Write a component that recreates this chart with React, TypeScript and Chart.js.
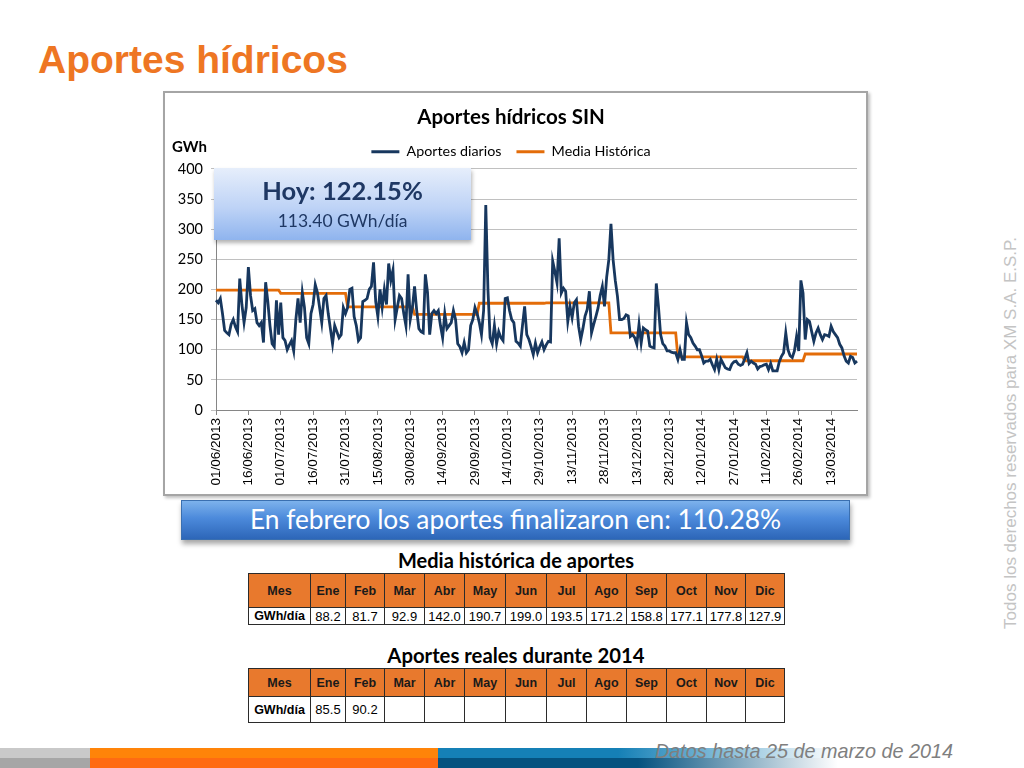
import React, { useEffect, useRef } from "react";
import { Chart, registerables } from "chart.js";

Chart.register(...registerables);

// ---------- DATA ----------
const START_DATE = "2013-06-01";
const LABEL_EVERY = 15;

// Aportes diarios SIN (GWh/día), 01/06/2013 .. 25/03/2014
const aportesDiarios: number[] = [
  182, 178, 185, 160, 132, 128, 125, 142, 150, 138,
  130, 218, 175, 145, 170, 237, 190, 165, 168, 145,
  140, 145, 112, 212, 180, 140, 110, 105, 182, 125,
  178, 120, 115, 100, 108, 115, 98, 150, 185, 145,
  195, 170, 120, 110, 160, 175, 208, 195, 170, 145,
  185, 190, 160, 135, 110, 140, 130, 120, 125, 170,
  160, 170, 200, 202, 155, 140, 115, 120, 180, 182,
  185, 200, 205, 245, 180, 155, 200, 170, 200, 175,
  243, 215, 232, 150, 170, 190, 185, 160, 140, 225,
  150, 170, 205, 165, 135, 130, 128, 225, 195, 125,
  160, 165, 160, 165, 140, 120, 160, 135, 140, 145,
  165, 150, 110, 105, 95, 112, 95, 100, 140, 150,
  170, 160, 145, 125, 165, 340, 200, 120, 110, 140,
  110, 130, 120, 115, 185, 186, 165, 150, 145, 114,
  111, 106, 140, 172, 125, 117, 105, 92, 111, 95,
  105, 113, 100, 108, 114, 113, 247, 230, 211, 285,
  194, 202, 197, 147, 172, 153, 178, 183, 139, 117,
  135, 156, 167, 197, 128, 142, 155, 169, 190, 205,
  172, 220, 249, 309, 249, 215, 189, 150, 150, 152,
  158, 156, 122, 125, 120, 109, 142, 111, 136, 133,
  131, 106, 104, 103, 210, 172, 125, 110, 106, 98,
  98, 96, 95, 95, 84, 100, 84, 84, 145, 125,
  120, 111, 106, 100, 100, 90, 78, 81, 81, 84,
  75, 67, 84, 67, 84, 77, 70, 68, 67, 76,
  80, 81, 76, 74, 76, 85, 95, 77, 81, 78,
  76, 68, 72, 73, 75, 76, 67, 77, 65, 65,
  65, 80, 89, 95, 128, 100, 90, 87, 98, 122,
  98, 215, 194, 117, 150, 147, 130, 114, 128, 136,
  125, 117, 125, 124, 122, 139, 130, 125, 120, 109,
  103, 90, 81, 78, 89, 87, 78, 81,
];

const meses = ["Ene", "Feb", "Mar", "Abr", "May", "Jun", "Jul", "Ago", "Sep", "Oct", "Nov", "Dic"];
const mediaHistorica = [88.2, 81.7, 92.9, 142.0, 190.7, 199.0, 193.5, 171.2, 158.8, 177.1, 177.8, 127.9];
const aportesReales2014: (number | null)[] = [85.5, 90.2, null, null, null, null, null, null, null, null, null, null];

const Y_MIN = 0;
const Y_MAX = 400;
const Y_STEP = 50;

const hoyPct = "122.15%";
const hoyGwh = "113.40 GWh/día";
const febreroPct = "110.28%";

// ---------- helpers ----------
function buildDates(start: string, n: number): Date[] {
  const base = new Date(start + "T00:00:00Z").getTime();
  const out: Date[] = [];
  for (let i = 0; i < n; i++) out.push(new Date(base + i * 86400000));
  return out;
}
const pad = (v: number) => (v < 10 ? "0" + v : "" + v);
const fmt = (d: Date) => `${pad(d.getUTCDate())}/${pad(d.getUTCMonth() + 1)}/${d.getUTCFullYear()}`;

const colW = [62, 35, 39, 40, 40, 41, 41, 40, 40, 40, 40, 39, 39];

function MonthTable(props: { top: number; headH: number; rowH: number; values: (number | null)[] }) {
  const { top, headH, rowH, values } = props;
  const cell: React.CSSProperties = {
    border: "1px solid #2b2b2b",
    textAlign: "center",
    padding: 0,
    fontFamily: "'Liberation Sans', Arial, sans-serif",
  };
  return (
    <table
      style={{
        position: "absolute",
        left: 248,
        top,
        width: 536,
        borderCollapse: "collapse",
        tableLayout: "fixed",
      }}
    >
      <colgroup>
        {colW.map((w, i) => (
          <col key={i} style={{ width: w }} />
        ))}
      </colgroup>
      <tbody>
        <tr style={{ height: headH }}>
          <td style={{ ...cell, background: "#E8792D", fontWeight: "bold", fontSize: 12.5, color: "#1a1a1a" }}>Mes</td>
          {meses.map((m) => (
            <td key={m} style={{ ...cell, background: "#E8792D", fontWeight: "bold", fontSize: 12.5, color: "#1a1a1a" }}>
              {m}
            </td>
          ))}
        </tr>
        <tr style={{ height: rowH }}>
          <td style={{ ...cell, fontWeight: "bold", fontSize: 12.5, color: "#000" }}>GWh/día</td>
          {values.map((v, i) => (
            <td key={i} style={{ ...cell, fontSize: 13, color: "#000" }}>
              {v === null ? "" : v.toFixed(1)}
            </td>
          ))}
        </tr>
      </tbody>
    </table>
  );
}

export default function App() {
  const canvasRef = useRef<HTMLCanvasElement>(null);

  useEffect(() => {
    const dates = buildDates(START_DATE, aportesDiarios.length);
    const labels = dates.map(fmt);
    const mediaSerie = dates.map((d) => mediaHistorica[d.getUTCMonth()]);

    const chart = new Chart(canvasRef.current!, {
      type: "line",
      data: {
        labels,
        datasets: [
          {
            label: "Aportes diarios",
            data: aportesDiarios,
            borderColor: "#17375E",
            backgroundColor: "#17375E",
            borderWidth: 2.8,
            pointRadius: 0,
            tension: 0,
          },
          {
            label: "Media Histórica",
            data: mediaSerie,
            borderColor: "#E36C09",
            backgroundColor: "#E36C09",
            borderWidth: 2.8,
            pointRadius: 0,
            tension: 0,
          },
        ],
      },
      options: {
        animation: false,
        responsive: true,
        maintainAspectRatio: false,
        layout: { padding: { top: 0, right: 9, left: 0, bottom: 0 } },
        plugins: {
          tooltip: { enabled: false },
          title: {
            display: true,
            text: "Aportes hídricos SIN",
            color: "#000",
            font: { family: "Lato", size: 20.5, weight: "bold" },
            padding: { top: 12, bottom: 0 },
          },
          legend: {
            display: true,
            labels: {
              usePointStyle: true,
              pointStyle: "line",
              pointStyleWidth: 28,
              color: "#000",
              font: { family: "Lato", size: 14.3 },
              padding: 15,
            },
          },
        },
        scales: {
          x: {
            type: "category",
            offset: false,
            afterFit: (s: any) => {
              s.height = 84;
              s.paddingRight = 0;
              s.paddingLeft = 0;
            },
            grid: {
              drawOnChartArea: false,
              drawTicks: true,
              tickLength: 5,
              color: (ctx: any) => (ctx.index % LABEL_EVERY === 0 ? "#868686" : "rgba(0,0,0,0)"),
            },
            border: { display: true, color: "#868686", width: 1 },
            ticks: {
              autoSkip: false,
              maxRotation: 90,
              minRotation: 90,
              padding: 3,
              color: "#000",
              font: { family: "'Liberation Sans', Arial", size: 13.5 },
              callback: (_v: any, i: number) => (i % LABEL_EVERY === 0 ? labels[i] : ""),
            },
          },
          y: {
            min: Y_MIN,
            max: Y_MAX,
            afterFit: (s: any) => {
              s.width = 51;
            },
            grid: {
              color: "#C0C0C0",
              lineWidth: 1,
              drawTicks: true,
              tickLength: 5,
            },
            border: { display: true, color: "#868686", width: 1 },
            ticks: {
              stepSize: Y_STEP,
              padding: 8,
              color: "#000",
              font: { family: "Lato", size: 14.5 },
            },
          },
        },
      },
    });
    return () => chart.destroy();
  }, []);

  return (
    <div
      style={{
        position: "absolute",
        left: 0,
        top: 0,
        width: 1024,
        height: 768,
        overflow: "hidden",
        background: "#fff",
        fontFamily: "'Liberation Sans', Arial, sans-serif",
      }}
    >
      {/* Slide title */}
      <div
        style={{
          position: "absolute",
          left: 38,
          top: 40,
          fontSize: 39,
          lineHeight: "39px",
          fontWeight: "bold",
          color: "#EE7623",
          whiteSpace: "nowrap",
        }}
      >
        Aportes hídricos
      </div>

      {/* Chart frame */}
      <div
        style={{
          position: "absolute",
          left: 163,
          top: 91,
          width: 705,
          height: 405,
          boxSizing: "border-box",
          border: "2px solid #A5A5A5",
          background: "#fff",
          boxShadow: "2px 2px 3px rgba(0,0,0,0.25)",
        }}
      >
        <div style={{ position: "relative", width: 701, height: 401 }}>
          <canvas ref={canvasRef} />
        </div>
      </div>

      {/* GWh axis label */}
      <div
        style={{
          position: "absolute",
          left: 172,
          top: 137,
          fontFamily: "Lato",
          fontWeight: "bold",
          fontSize: 15,
          color: "#000",
        }}
      >
        GWh
      </div>

      {/* Hoy callout */}
      <div
        style={{
          position: "absolute",
          left: 214,
          top: 168,
          width: 257,
          height: 72,
          background: "linear-gradient(to bottom, #E6EEFB 0%, #BED3F6 55%, #8FB4EE 100%)",
          boxShadow: "1px 3px 4px rgba(0,0,0,0.3)",
          textAlign: "center",
          fontFamily: "Lato",
          color: "#1F3864",
        }}
      >
        <div style={{ fontWeight: "bold", fontSize: 25.5, lineHeight: "30px", marginTop: 7 }}>Hoy: {hoyPct}</div>
        <div style={{ fontSize: 17.5, lineHeight: "22px", marginTop: 5 }}>{hoyGwh}</div>
      </div>

      {/* Blue banner */}
      <div
        style={{
          position: "absolute",
          left: 181,
          top: 500,
          width: 669,
          height: 40,
          boxSizing: "border-box",
          border: "1px solid #3A6FB0",
          background: "linear-gradient(to bottom, #7DB2EC 0%, #4C8ADB 45%, #2D66B8 100%)",
          boxShadow: "1px 4px 5px rgba(0,0,0,0.35)",
          textAlign: "center",
          color: "#fff",
          fontFamily: "Lato",
          fontSize: 26.3,
          lineHeight: "37px",
          whiteSpace: "nowrap",
        }}
      >
        En febrero los aportes finalizaron en: {febreroPct}
      </div>

      {/* Table 1 */}
      <div
        style={{
          position: "absolute",
          left: 248,
          width: 536,
          top: 548,
          textAlign: "center",
          fontFamily: "Lato",
          fontWeight: "bold",
          fontSize: 20,
          lineHeight: "24px",
          color: "#000",
        }}
      >
        Media histórica de aportes
      </div>
      <MonthTable top={573} headH={34} rowH={17} values={mediaHistorica} />

      {/* Table 2 */}
      <div
        style={{
          position: "absolute",
          left: 248,
          width: 536,
          top: 643,
          textAlign: "center",
          fontFamily: "Lato",
          fontWeight: "bold",
          fontSize: 20.3,
          lineHeight: "24px",
          color: "#000",
        }}
      >
        Aportes reales durante 2014
      </div>
      <MonthTable top={668} headH={28} rowH={26} values={aportesReales2014} />

      {/* Vertical watermark */}
      <div
        style={{
          position: "absolute",
          left: 1011 - 220,
          top: 433 - 11,
          width: 440,
          height: 22,
          lineHeight: "22px",
          textAlign: "center",
          transform: "rotate(-90deg)",
          transformOrigin: "50% 50%",
          fontSize: 17,
          color: "#C4C4C4",
          whiteSpace: "nowrap",
        }}
      >
        Todos los derechos reservados para XM S.A. E.S.P.
      </div>

      {/* Bottom bar */}
      <div style={{ position: "absolute", left: 0, top: 748, width: 90, height: 10, background: "#C9C9C9" }} />
      <div style={{ position: "absolute", left: 0, top: 758, width: 90, height: 10, background: "#A6A6A6" }} />
      <div style={{ position: "absolute", left: 90, top: 748, width: 348, height: 10, background: "#FF8409" }} />
      <div style={{ position: "absolute", left: 90, top: 758, width: 348, height: 10, background: "#FF6B12" }} />
      <div
        style={{
          position: "absolute",
          left: 438,
          top: 748,
          width: 400,
          height: 10,
          background: "linear-gradient(to right, #1580B6 0%, #1580B6 45%, rgba(21,128,182,0) 100%)",
        }}
      />
      <div
        style={{
          position: "absolute",
          left: 438,
          top: 758,
          width: 400,
          height: 10,
          background: "linear-gradient(to right, #05527F 0%, #05527F 50%, rgba(5,82,127,0) 100%)",
        }}
      />
      <div
        style={{
          position: "absolute",
          left: 655,
          top: 739,
          fontStyle: "italic",
          fontSize: 19.8,
          lineHeight: "24px",
          color: "#7F7F7F",
          whiteSpace: "nowrap",
        }}
      >
        Datos hasta 25 de marzo de 2014
      </div>
    </div>
  );
}
